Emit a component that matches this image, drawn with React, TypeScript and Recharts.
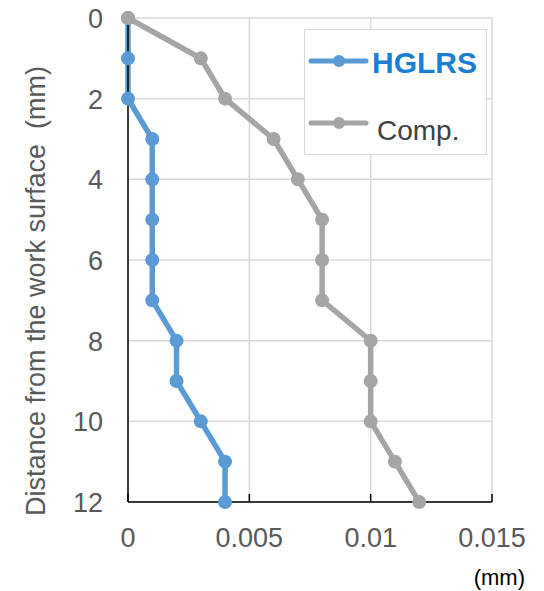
import React from 'react';
import { LineChart, Line, XAxis, YAxis, CartesianGrid } from 'recharts';

const depths = [0, 1, 2, 3, 4, 5, 6, 7, 8, 9, 10, 11, 12];
const hglrsValues = [0, 0, 0, 0.001, 0.001, 0.001, 0.001, 0.001, 0.002, 0.002, 0.003, 0.004, 0.004];
const compValues = [0, 0.003, 0.004, 0.006, 0.007, 0.008, 0.008, 0.008, 0.01, 0.01, 0.01, 0.011, 0.012];
const xTicks = [0, 0.005, 0.01, 0.015];
const yTicks = [0, 2, 4, 6, 8, 10, 12];

const data = depths.map((d, i) => ({ depth: d, hglrs: hglrsValues[i], comp: compValues[i] }));

const BLUE = '#5b9bd5';
const GRAY = '#a5a5a5';
const FONT = '"Liberation Sans", Arial, sans-serif';

const XTick = (props: any) => {
  const { x, y, payload } = props;
  return (
    <g>
      <line x1={x} x2={x} y1={y - 8} y2={y} stroke="#000" strokeWidth={1.5} />
      <text x={x} y={y + 45} textAnchor="middle" fill="#595959" fontSize={27} fontFamily={FONT}>
        {payload.value}
      </text>
    </g>
  );
};

const YTick = (props: any) => {
  const { x, y, payload } = props;
  return (
    <text x={x} y={y + 10} textAnchor="end" fill="#595959" fontSize={27} fontFamily={FONT}>
      {payload.value}
    </text>
  );
};

const LegendBox = () => (
  <div
    style={{
      position: 'absolute',
      left: 304,
      top: 29,
      width: 183,
      height: 126,
      border: '1.5px solid #d9d9d9',
      background: '#fff',
      boxSizing: 'border-box',
    }}
  >
    <svg width={183} height={126} style={{ position: 'absolute', left: -1.5, top: -1.5 }}>
      <line x1={7} x2={62} y1={32} y2={32} stroke={BLUE} strokeWidth={5} strokeLinecap="round" />
      <circle cx={35} cy={32} r={6} fill={BLUE} />
      <text x={68} y={44} fontSize={30} fontWeight="bold" fill="#1a7fd3" fontFamily={FONT}>HGLRS</text>
      <line x1={7} x2={62} y1={94} y2={94} stroke={GRAY} strokeWidth={5} strokeLinecap="round" />
      <circle cx={35} cy={94} r={6} fill={GRAY} />
      <text x={73} y={111} fontSize={28} fill="#404040" fontFamily={FONT}>Comp.</text>
    </svg>
  </div>
);

const YLabel = () => (
  <text
    x={38}
    y={291}
    transform="rotate(-90, 38, 291)"
    textAnchor="middle"
    dominantBaseline="middle"
    fontSize={27}
    fill="#595959"
    fontFamily={FONT}
  >
    {'Distance from the work surface\u00a0 (mm)'}
  </text>
);

const XLabel = () => (
  <text x={525} y={585} textAnchor="end" fontSize={22} fill="#000" fontFamily={FONT}>
    (mm)
  </text>
);

export default function App() {
  return (
    <div style={{ position: 'absolute', left: 0, top: 0, width: 544, height: 591, background: '#fff' }}>
      <LineChart
        width={544}
        height={591}
        data={data}
        layout="vertical"
        margin={{ top: 18, right: 52, bottom: 49, left: 0 }}
      >
        <CartesianGrid stroke="#d9d9d9" strokeWidth={1.5} />
        <XAxis
          type="number"
          domain={[0, 0.015]}
          ticks={xTicks}
          height={40}
          axisLine={{ stroke: '#000', strokeWidth: 1.5 }}
          tickLine={false}
          tickSize={0}
          tickMargin={0}
          tick={<XTick />}
          interval={0}
          label={<XLabel />}
        />
        <YAxis
          type="number"
          dataKey="depth"
          domain={[0, 12]}
          ticks={yTicks}
          width={128}
          axisLine={{ stroke: '#000', strokeWidth: 1.5 }}
          tickLine={false}
          tickSize={0}
          tickMargin={25}
          tick={<YTick />}
          interval={0}
          label={<YLabel />}
        />
        <Line
          dataKey="hglrs"
          name="HGLRS"
          stroke={BLUE}
          strokeWidth={5.5}
          dot={{ r: 7, fill: BLUE, stroke: BLUE, strokeWidth: 0 }}
          isAnimationActive={false}
        />
        <Line
          dataKey="comp"
          name="Comp."
          stroke={GRAY}
          strokeWidth={5.5}
          dot={{ r: 7, fill: GRAY, stroke: GRAY, strokeWidth: 0 }}
          isAnimationActive={false}
        />
      </LineChart>
      <LegendBox />
    </div>
  );
}
